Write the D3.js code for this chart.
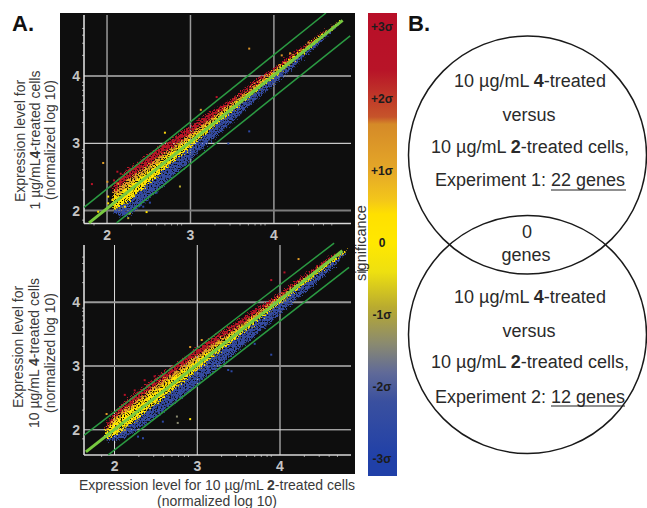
<!DOCTYPE html>
<html>
<head>
<meta charset="utf-8">
<script src="https://cdn.jsdelivr.net/npm/d3@7"></script>
<style>
  html, body { margin: 0; background: #fff; }
  svg { display: block; }
  text { font-family: "Liberation Sans", Arial, sans-serif; }
</style>
</head>
<body>
<svg id="chart" width="647" height="508"></svg>
<script>
// x stops for the read-off band edges (expression level on x)
const xsTop = [2.08,2.2,2.4,2.6,2.8,3.0,3.2,3.4,3.6,3.8,4.0,4.2,4.4,4.6,4.8];
const xsBottom = [1.9,2.0,2.2,2.4,2.6,2.8,3.0,3.2,3.4,3.6,3.8,4.0,4.2,4.4,4.6,4.8];

// top panel, band edges
const redTop1 = [2.36,2.54,2.73,2.91,3.07,3.24,3.42,3.57,3.74,3.94,4.10,4.31,4.47,4.65,4.82];
const orangeTop1 = [2.26,2.40,2.58,2.77,2.95,3.13,3.32,3.50,3.69,3.88,4.07,4.26,4.45,4.64,4.82];
const yellowTop1 = [2.18,2.31,2.50,2.69,2.88,3.07,3.26,3.45,3.65,3.84,4.04,4.23,4.43,4.62,4.81];
const yellowLow1 = [2.01,2.07,2.28,2.50,2.72,2.93,3.15,3.36,3.57,3.77,3.98,4.18,4.38,4.59,4.79];
const blueLow1 = [1.98,1.90,2.06,2.28,2.51,2.73,2.97,3.19,3.42,3.65,3.86,4.08,4.31,4.54,4.78];

// bottom panel
const redTop2 = [2.05,2.26,2.50,2.71,2.90,3.08,3.27,3.45,3.62,3.79,3.96,4.13,4.32,4.50,4.69,4.82];
const orangeTop2 = [2.00,2.17,2.39,2.59,2.78,2.97,3.16,3.34,3.52,3.71,3.89,4.08,4.27,4.46,4.65,4.81];
const yellowTop2 = [1.98,2.12,2.32,2.52,2.71,2.90,3.09,3.28,3.47,3.66,3.85,4.05,4.24,4.43,4.63,4.81];
const yellowLow2 = [1.84,1.90,2.08,2.29,2.50,2.72,2.93,3.14,3.35,3.56,3.77,3.97,4.18,4.38,4.58,4.79];
const blueLow2 = [1.82,1.82,1.93,2.10,2.29,2.49,2.70,2.91,3.13,3.35,3.58,3.80,4.03,4.25,4.48,4.77];

// stray genes outside the dense band: x, y, significance
const strayX1 = [1.825,1.96,2.01,2.13,2.17,2.02,2.02,1.90,2.10,2.16,2.12,2.26,2.48,2.70,2.88,2.60,2.44,2.52,3.13,3.32,3.71,3.71,3.46,4.10,4.42,4.20,2.05,2.09,2.14,2.18,2.07,2.22,2.30,2.34,2.40,2.28];
const strayY1 = [2.386,2.70,2.42,2.57,2.54,2.20,2.10,1.975,2.025,2.25,2.20,1.88,1.97,3.15,2.35,2.26,2.05,2.11,3.49,3.68,4.40,3.17,2.99,4.30,4.49,4.33,2.35,2.44,2.39,2.47,2.15,2.05,1.98,2.02,2.10,1.95];
const strayS1 = [2.5,1.2,1.3,2.8,2.8,0.4,0.4,0.4,0.4,1.3,0.4,-0.9,0.4,0.5,-0.9,-2.6,-2.6,-2.6,1.3,2.6,1.5,-2.6,-2.6,1.4,1.3,1.3,2.6,2.8,1.4,2.8,0.4,0.4,-2.6,-2.6,-2.6,-0.9];

const strayX2 = [1.91,2.13,2.25,2.37,2.49,2.92,3.06,2.03,2.92,2.76,2.77,2.59,2.35,2.29,2.13,2.51,3.90,4.23,3.90,3.38,3.42,3.70,4.06];
const strayY2 = [2.24,2.54,2.61,2.77,2.83,3.29,3.40,2.04,2.16,2.20,2.10,2.12,1.86,1.885,1.99,2.20,4.34,4.67,3.17,2.93,2.91,3.34,4.46];
const strayS2 = [1.3,2.8,2.8,2.8,2.8,1.3,1.3,0.4,0.4,-1.4,-1.4,-2.6,-2.6,-2.6,-0.9,-2.6,2.8,1.3,-2.6,-2.6,-2.6,-2.6,2.8];

// fold-change guide lines, [x, y] at each end
const centre1 = [[1.79,1.81],[4.83,4.82]];
const upper1 = [[1.73,2.04],[4.63,4.93]];
const lower1 = [[2.12,1.81],[4.92,4.59]];
const centre2 = [[1.66,1.645],[4.76,4.80]];
const upper2 = [[1.64,1.91],[4.66,4.92]];
const lower2 = [[1.93,1.60],[4.84,4.54]];

const majorTicks = [2,3,4];
const minorTicks = [1.85,2.3,2.48,2.6,2.7,2.78,2.85,2.9,3.3,3.48,3.6,3.7,3.78,3.85,3.9,4.3,4.48,4.6,4.7];

// colour bar
const sigmaTicks = [3,2,1,0,-1,-2,-3];
const sigmaLabels = ["+3σ","+2σ","+1σ","0","-1σ","-2σ","-3σ"];
const sigmaStops = [3.2,2.4,1.75,1.65,1,0.6,0.4,0,-0.4,-0.9,-1.4,-1.8,-2.2,-3,-3.2];
const sigmaColors = ["#b80f28","#b81428","#c6542a","#d58a28","#e5a828","#f3c61a","#ffe000","#ffe800","#eee010","#b8aa30","#8a8a70","#606a98","#3a509f","#2040a8","#2040a8"];

const svg = d3.select("#chart");
const sigmaColor = d3.scaleLinear().domain(sigmaStops).range(sigmaColors);
const sigmaY = d3.scaleLinear().domain([3,-3]).range([27,459]);

// grainy look for the dense cloud of points
const defs = svg.append("defs");
const grain = defs.append("filter").attr("id","grain")
  .attr("x","-5%").attr("y","-5%").attr("width","110%").attr("height","110%");
grain.append("feTurbulence").attr("type","fractalNoise").attr("baseFrequency",0.7)
  .attr("numOctaves",2).attr("seed",7).attr("result","noise");
grain.append("feDisplacementMap").attr("in","SourceGraphic").attr("in2","noise")
  .attr("scale",9).attr("xChannelSelector","R").attr("yChannelSelector","G").attr("result","moved");
grain.append("feColorMatrix").attr("in","noise").attr("type","matrix")
  .attr("values","0 0 0 0 0  0 0 0 0 0  0 0 0 0 0  0 0 8 0 -2.6").attr("result","mask");
grain.append("feComposite").attr("in","moved").attr("in2","mask").attr("operator","in").attr("result","holes");
grain.append("feGaussianBlur").attr("in","holes").attr("stdDeviation",0.35);

defs.append("clipPath").attr("id","plotClip").append("rect")
  .attr("x",60).attr("y",13).attr("width",295).attr("height",461);

svg.append("rect").attr("x",60).attr("y",13).attr("width",295).attr("height",461).attr("fill","#0e0e0e");

function drawPanel(o) {
  let x = d3.scaleLinear().domain(o.xDomain).range([84,351]);
  let y = d3.scaleLinear().domain(o.yDomain).range(o.yRange);
  let g = svg.append("g");

  // grid + tick labels
  let xAxis = g.append("g").attr("transform",`translate(0,${o.yRange[0]})`)
    .call(d3.axisBottom(x).tickValues(majorTicks).tickSize(o.yRange[1]-o.yRange[0]).tickFormat(d3.format("d")));
  xAxis.select(".domain").remove();
  xAxis.selectAll("line").attr("stroke",o.vGrid).attr("stroke-width",o.vWidth);
  xAxis.selectAll("text").attr("y",16).attr("dy",0).attr("fill","#c4c4c4").attr("font-size",14).attr("font-weight","bold");

  let yAxis = g.append("g").attr("transform","translate(84,0)")
    .call(d3.axisLeft(y).tickValues(majorTicks).tickSize(84-351).tickFormat(d3.format("d")));
  yAxis.select(".domain").remove();
  yAxis.selectAll("line").attr("stroke",(d) => o.hGrid[d][0]).attr("stroke-width",(d) => o.hGrid[d][1]);
  yAxis.selectAll("text").attr("x",-4).attr("dy","0.36em").attr("fill","#c4c4c4").attr("font-size",14).attr("font-weight","bold");

  // small ticks along both axes
  g.selectAll(".mx").data(minorTicks).enter().append("line")
    .attr("x1",x).attr("x2",x).attr("y1",o.yRange[0]).attr("y2",o.yRange[0]+2).attr("stroke","#999");
  g.selectAll(".my").data(minorTicks).enter().append("line")
    .attr("y1",y).attr("y2",y).attr("x1",82).attr("x2",84).attr("stroke","#999");

  // axis lines
  g.append("line").attr("x1",84).attr("x2",84).attr("y1",o.yRange[0]).attr("y2",o.yRange[1]).attr("stroke","#e8e8e8").attr("stroke-width",1.5);
  g.append("line").attr("x1",84).attr("x2",351).attr("y1",o.yRange[0]).attr("y2",o.yRange[0]).attr("stroke","#d8d8d8").attr("stroke-width",1.5);

  // dense cloud, outer colours first
  let cloud = g.append("g").attr("filter","url(#grain)");
  let band = (lo,hi,sigma) => {
    let area = d3.area().curve(d3.curveMonotoneX).x((d) => x(d)).y0((d,i) => y(lo[i])).y1((d,i) => y(hi[i]));
    cloud.append("path").attr("d",area(o.xs)).attr("fill",sigmaColor(sigma));
  };
  band(o.blueLow,o.yellowLow,-2.4);
  band(o.yellowLow,o.yellowTop,0.2);
  band(o.yellowTop,o.orangeTop,1.2);
  band(o.orangeTop,o.redTop,2.7);

  // stray points
  g.selectAll(".stray").data(o.strayX).enter().append("rect")
    .attr("x",(d) => x(d)-1).attr("y",(d,i) => y(o.strayY[i])-1)
    .attr("width",2).attr("height",2).attr("fill",(d,i) => sigmaColor(o.strayS[i]));

  // guide lines
  let line = d3.line().x((d) => x(d[0])).y((d) => y(d[1]));
  let guides = g.append("g").attr("clip-path","url(#plotClip)").attr("fill","none");
  guides.append("path").attr("d",line(o.upper)).attr("stroke","#2b9a42").attr("stroke-width",1.5);
  guides.append("path").attr("d",line(o.lower)).attr("stroke","#2b9a42").attr("stroke-width",1.5);
  guides.append("path").attr("d",line(o.centre)).attr("stroke","#78c940").attr("stroke-width",3);
}

drawPanel({
  xDomain:[1.73,4.93], yDomain:[1.8,4.9], yRange:[223.5,15],
  xs:xsTop, redTop:redTop1, orangeTop:orangeTop1, yellowTop:yellowTop1, yellowLow:yellowLow1, blueLow:blueLow1,
  strayX:strayX1, strayY:strayY1, strayS:strayS1,
  centre:centre1, upper:upper1, lower:lower1,
  vGrid:"#9a9a9a", vWidth:1.5,
  hGrid:{4:["#8a8a8a",2],3:["#c8c8c8",1.2],2:["#7c7c7c",2]}
});
drawPanel({
  xDomain:[1.637,4.864], yDomain:[1.597,4.89], yRange:[455,245],
  xs:xsBottom, redTop:redTop2, orangeTop:orangeTop2, yellowTop:yellowTop2, yellowLow:yellowLow2, blueLow:blueLow2,
  strayX:strayX2, strayY:strayY2, strayS:strayS2,
  centre:centre2, upper:upper2, lower:lower2,
  vGrid:"#e0e0e0", vWidth:1,
  hGrid:{4:["#9a9a9a",2],3:["#8a8a8a",2],2:["#e0e0e0",1]}
});

// colour bar
let grad = defs.append("linearGradient").attr("id","sigmaGrad").attr("gradientUnits","userSpaceOnUse")
  .attr("x1",0).attr("x2",0).attr("y1",sigmaY(3.2)).attr("y2",sigmaY(-3.2));
grad.selectAll("stop").data(sigmaStops).enter().append("stop")
  .attr("offset",(d) => (3.2-d)/6.4).attr("stop-color",(d,i) => sigmaColors[i]);
svg.append("rect").attr("x",368).attr("y",13).attr("width",29).attr("height",463).attr("fill","url(#sigmaGrad)");
svg.selectAll(".sigmaLabel").data(sigmaTicks).enter().append("text")
  .attr("x",382).attr("y",(d) => sigmaY(d)+4).attr("text-anchor","middle")
  .attr("font-size",12).attr("font-weight","bold").attr("fill","#1c1c1c")
  .text((d,i) => sigmaLabels[i]);
svg.append("text").attr("transform","translate(366,243) rotate(-90)").attr("text-anchor","middle")
  .attr("font-size",14.5).attr("fill","#333").text("significance");
svg.append("line").attr("x1",357).attr("x2",368).attr("y1",270.5).attr("y2",270.5).attr("stroke","#555");

// text helper, parts are [string, bold]
function label(px,py,parts,opts) {
  opts = opts || {};
  let t = svg.append("text").attr("text-anchor",opts.anchor || "middle")
    .attr("font-size",opts.size || 14).attr("fill",opts.fill || "#3a3a3a");
  if (opts.rotate) t.attr("transform",`translate(${px},${py}) rotate(-90)`);
  else t.attr("x",px).attr("y",py);
  parts.forEach((p) => t.append("tspan").attr("font-weight",p[1] ? "bold" : null).text(p[0]));
  return t;
}

label(12,31,[["A.",1]],{anchor:"start",size:22,fill:"#111"});
label(408,31,[["B.",1]],{anchor:"start",size:22,fill:"#111"});

const rot = {rotate:true};
label(25,141,[["Expression level for",0]],rot);
label(40,140,[["1 µg/mL",0],["4",1],["-treated cells",0]],rot);
label(55,140,[["(normalized log 10)",0]],rot);
label(23,347,[["Expression level for",0]],rot);
label(39,353,[["10 µg/mL ",0],["4",1],["-treated cells",0]],rot);
label(55,353,[["(normalized log 10)",0]],rot);
label(217,490,[["Expression level for 10 µg/mL ",0],["2",1],["-treated cells",0]]);
label(217,506,[["(normalized log 10)",0]]);

// Venn diagram
const vennCy = [155,334.5];
svg.selectAll("circle").data(vennCy).enter().append("circle")
  .attr("cx",527.5).attr("cy",(d) => d).attr("r",119)
  .attr("fill","none").attr("stroke","#1a1a1a").attr("stroke-width",1.5);

const venn = {size:18,fill:"#2a2a2a"};
label(530,87,[["10 µg/mL ",0],["4",1],["-treated",0]],venn);
label(529,121,[["versus",0]],venn);
label(530,153,[["10 µg/mL ",0],["2",1],["-treated cells,",0]],venn);
label(530,186,[["Experiment 1: ",0],["22 genes",0]],venn);
label(527,238,[["0",0]],venn);
label(526,261,[["genes",0]],venn);
label(530,303,[["10 µg/mL ",0],["4",1],["-treated",0]],venn);
label(529,337,[["versus",0]],venn);
label(530,368,[["10 µg/mL ",0],["2",1],["-treated cells,",0]],venn);
label(530,403,[["Experiment 2: ",0],["12 genes",0]],venn);
svg.append("line").attr("x1",551).attr("x2",626).attr("y1",190).attr("y2",190).attr("stroke","#222").attr("stroke-width",1.2);
svg.append("line").attr("x1",551).attr("x2",625).attr("y1",406).attr("y2",406).attr("stroke","#222").attr("stroke-width",1.2);
</script>
</body>
</html>
